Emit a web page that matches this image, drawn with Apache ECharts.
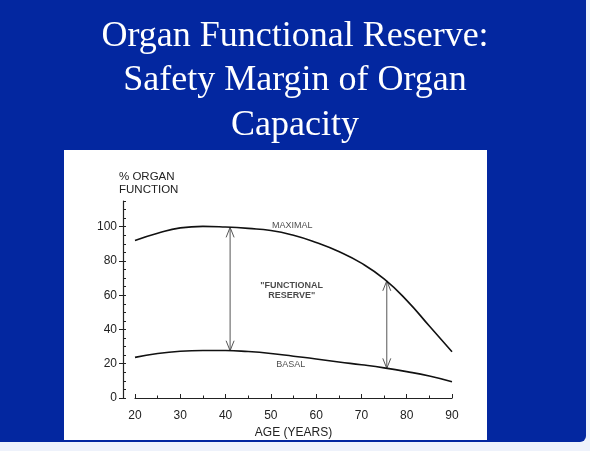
<!DOCTYPE html>
<html>
<head>
    <title>Organ Functional Reserve</title>
    <script src="https://cdn.jsdelivr.net/npm/echarts@6.0.0/dist/echarts.min.js"></script>
    <style>
        body { margin: 0; background: #eef2fb; }
    </style>
</head>
<body>
    <div id="chart" style="width: 590px; height: 451px;"></div>
    <script>
        // values
        var ages = [20, 25, 30, 35, 40, 45, 50, 55, 60, 65, 70, 75, 80, 85, 90];
        var maximal = [92, 96.2, 99.3, 100.2, 99.8, 99, 97.8, 95, 90.8, 85.5, 78.7, 69.5, 57, 42, 27];
        var basal = [23.7, 26, 27.3, 27.7, 27.7, 27.1, 26, 24.4, 22.8, 21, 19.4, 17.6, 15.4, 12.8, 9.5];

        // the two "functional reserve" double arrows
        var arrowAges = [41, 75.6];
        var arrowLow = [27.6, 17.3];
        var arrowHigh = [99.6, 68.4];

        var yTickValues = [0, 20, 40, 60, 80, 100];

        var notes = [
            { name: 'MAXIMAL', value: [54.7, 100.4] },
            { name: '"FUNCTIONAL\nRESERVE"', value: [54.6, 63], label: { fontWeight: 'bold' } },
            { name: 'BASAL', value: [54.4, 19.6] }
        ];

        var chart = echarts.init(document.querySelector('#chart'));

        var ink = '#222';
        var font = 'Liberation Sans, Arial, sans-serif';

        var option = {
            backgroundColor: '#eef2fb',
            animation: false,
            graphic: [
                {
                    type: 'rect', z: -10,
                    shape: { x: 0, y: 0, width: 586, height: 442, r: [0, 0, 6, 0] },
                    style: { fill: '#0327a0' }
                },
                {
                    type: 'rect', z: -9,
                    shape: { x: 64, y: 150, width: 423, height: 290 },
                    style: { fill: '#ffffff' }
                },
                {
                    type: 'text', left: 119, top: 167,
                    style: { text: '% ORGAN\nFUNCTION', fill: ink, font: '11.5px ' + font, lineHeight: 13 }
                }
            ],
            title: {
                text: 'Organ Functional Reserve:\nSafety Margin of Organ\nCapacity',
                left: 'center',
                top: 9,
                textStyle: {
                    color: '#ffffff',
                    fontFamily: 'Liberation Serif',
                    fontWeight: 'normal',
                    fontSize: 36,
                    lineHeight: 44.5
                }
            },
            grid: { left: 135, right: 138, top: 201, bottom: 53 },
            xAxis: {
                type: 'value',
                min: 20, max: 90, interval: 10,
                name: 'AGE (YEARS)',
                nameLocation: 'middle',
                nameGap: 24,
                nameMoveOverlap: false,
                nameTextStyle: { color: ink, fontSize: 12, fontFamily: font },
                axisLine: { lineStyle: { color: ink, width: 1.2 } },
                axisTick: { inside: true, length: 4, lineStyle: { color: ink } },
                minorTick: { show: true, splitNumber: 2, length: 2.5, lineStyle: { color: ink } },
                axisLabel: { color: ink, fontSize: 12, fontFamily: font, margin: 7 },
                splitLine: { show: false },
                minorSplitLine: { show: false }
            },
            yAxis: [
                {
                    type: 'value',
                    position: 'left',
                    offset: 12,
                    min: 0, max: 115, interval: 5,
                    axisLine: { show: true, lineStyle: { color: ink, width: 1.2 } },
                    axisTick: { show: true, length: 4, customValues: yTickValues, lineStyle: { color: ink } },
                    axisLabel: { color: ink, fontSize: 12, fontFamily: font, margin: 6, customValues: yTickValues },
                    splitLine: { show: false }
                },
                {
                    type: 'value',
                    position: 'left',
                    offset: 12,
                    min: 0, max: 115, interval: 5,
                    axisLine: { show: false },
                    axisTick: { show: true, inside: true, length: 3, lineStyle: { color: ink } },
                    axisLabel: { show: false },
                    splitLine: { show: false }
                }
            ],
            series: [
                {
                    name: 'Maximal',
                    type: 'line',
                    smooth: 0.5,
                    symbol: 'none',
                    data: ages.map(function (a, i) { return [a, maximal[i]]; }),
                    lineStyle: { color: '#111', width: 1.6 }
                },
                {
                    name: 'Basal',
                    type: 'line',
                    smooth: 0.5,
                    symbol: 'none',
                    data: ages.map(function (a, i) { return [a, basal[i]]; }),
                    lineStyle: { color: '#111', width: 1.6 }
                },
                {
                    name: 'Reserve',
                    type: 'custom',
                    data: arrowAges.map(function (a, i) { return [a, arrowLow[i], arrowHigh[i]]; }),
                    encode: { x: 0, y: [1, 2] },
                    renderItem: function (params, api) {
                        var top = api.coord([api.value(0), api.value(2)]);
                        var bot = api.coord([api.value(0), api.value(1)]);
                        var w = 4, l = 10;
                        var st = { stroke: '#555', lineWidth: 1, fill: null };
                        return {
                            type: 'group',
                            children: [
                                { type: 'line', shape: { x1: top[0], y1: top[1], x2: bot[0], y2: bot[1] }, style: st },
                                { type: 'polyline', shape: { points: [[top[0] - w, top[1] + l], top, [top[0] + w, top[1] + l]] }, style: st },
                                { type: 'polyline', shape: { points: [[bot[0] - w, bot[1] - l], bot, [bot[0] + w, bot[1] - l]] }, style: st }
                            ]
                        };
                    }
                },
                {
                    name: 'Notes',
                    type: 'scatter',
                    symbolSize: 0,
                    itemStyle: { color: 'transparent' },
                    data: notes,
                    label: {
                        show: true,
                        position: 'inside',
                        formatter: '{b}',
                        color: '#1a1a1a',
                        fontSize: 9,
                        fontFamily: font,
                        lineHeight: 10,
                        align: 'center'
                    }
                }
            ]
        };
        chart.setOption(option);
    </script>
</body>
</html>
